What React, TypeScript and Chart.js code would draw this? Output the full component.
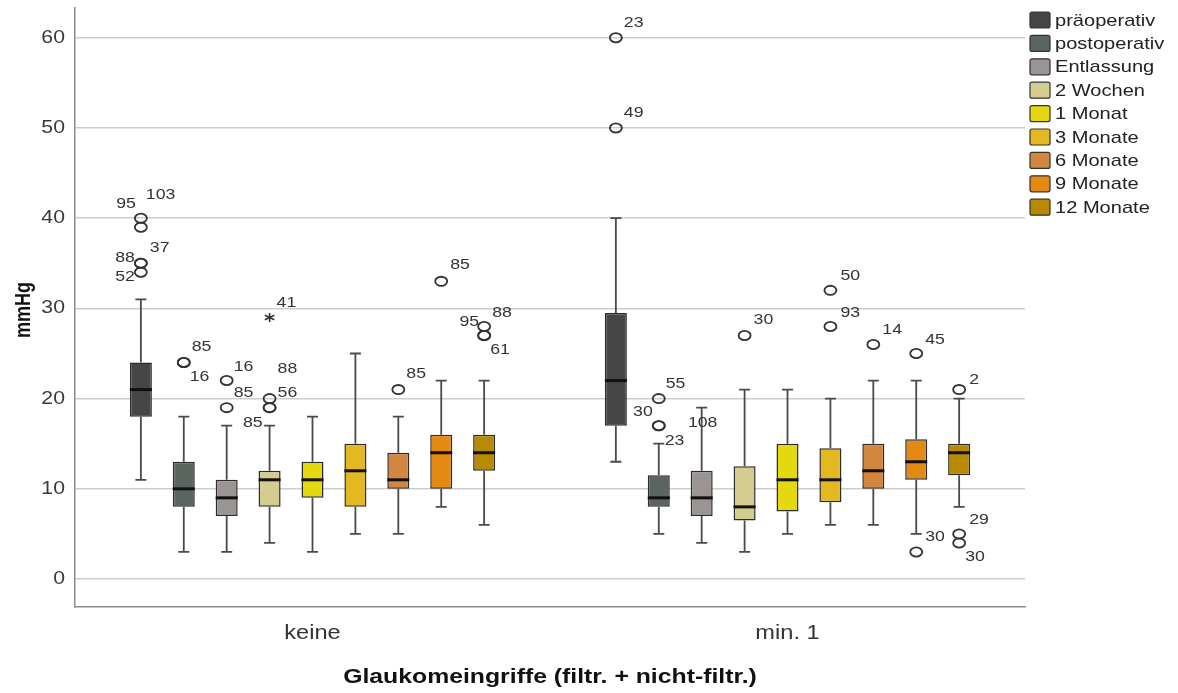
import React, { useEffect, useRef } from "react";
import { Chart, registerables } from "chart.js";

Chart.register(...registerables);

// Groups on the x axis
const groups = ["keine", "min. 1"];

// Measurement times (one box per time point in each group)
const seriesNames = [
  "präoperativ",
  "postoperativ",
  "Entlassung",
  "2 Wochen",
  "1 Monat",
  "3 Monate",
  "6 Monate",
  "9 Monate",
  "12 Monate",
];
const seriesColors = [
  "#464646",
  "#5a6560",
  "#9a9592",
  "#d4cd8f",
  "#e4d90f",
  "#e3b820",
  "#d3863f",
  "#e48912",
  "#b78a02",
];

// Box-plot summaries, per series: [keine, min. 1]
const whiskerLow = [[11, 13], [3, 5], [3, 4], [4, 3], [3, 5], [5, 6], [5, 6], [8, 5], [6, 8]];
const quartile1 = [[18, 17], [8, 8], [7, 7], [8, 6.5], [9, 7.5], [8, 8.5], [10, 10], [10, 11], [12, 11.5]];
const medians = [[21, 22], [10, 9], [9, 9], [11, 8], [11, 11], [12, 11], [11, 12], [14, 13], [14, 14]];
const quartile3 = [[24, 29.5], [13, 11.5], [11, 12], [12, 12.5], [13, 15], [15, 14.5], [14, 15], [16, 15.5], [16, 15]];
const whiskerHigh = [[31, 40], [18, 15], [17, 19], [17, 21], [18, 21], [25, 20], [18, 22], [22, 22], [22, 20]];

// Outliers: [series, group, value, case number, marker ("o" mild, "*" extreme, "" label only)]
const outliers: [number, number, number, string, string][] = [
  [0, 0, 40, "95", "o"],
  [0, 0, 39, "103", "o"],
  [0, 0, 35, "88", "o"],
  [0, 0, 35, "37", "o"],
  [0, 0, 34, "52", "o"],
  [1, 0, 24, "85", "o"],
  [1, 0, 24, "16", "o"],
  [2, 0, 22, "16", "o"],
  [2, 0, 19, "85", "o"],
  [3, 0, 29, "41", "*"],
  [3, 0, 20, "88", "o"],
  [3, 0, 19, "56", "o"],
  [3, 0, 19, "85", "o"],
  [6, 0, 21, "85", "o"],
  [7, 0, 33, "85", "o"],
  [8, 0, 28, "88", "o"],
  [8, 0, 27, "95", "o"],
  [8, 0, 27, "61", "o"],
  [0, 1, 60, "23", "o"],
  [0, 1, 50, "49", "o"],
  [1, 1, 20, "55", "o"],
  [1, 1, 17, "30", "o"],
  [1, 1, 17, "23", "o"],
  [2, 1, 19, "108", ""],
  [3, 1, 27, "30", "o"],
  [5, 1, 32, "50", "o"],
  [5, 1, 28, "93", "o"],
  [6, 1, 26, "14", "o"],
  [7, 1, 25, "45", "o"],
  [7, 1, 3, "30", "o"],
  [8, 1, 21, "2", "o"],
  [8, 1, 5, "29", "o"],
  [8, 1, 4, "30", "o"],
];

// Where each case number sits next to its marker: [dx, dy, text alignment]
const outlierLabelOffsets: [number, number, CanvasTextAlign][] = [
  [-5, -14, "right"],
  [5, -32, "left"],
  [-6, -5, "right"],
  [9, -15, "left"],
  [-6, 5, "right"],
  [8, -16, "left"],
  [6, 14, "left"],
  [7, -14, "left"],
  [7, -15, "left"],
  [7, -15, "left"],
  [8, -30, "left"],
  [8, -15, "left"],
  [-7, 15, "right"],
  [8, -16, "left"],
  [9, -16, "left"],
  [8, -14, "left"],
  [-5, -14, "right"],
  [6, 14, "left"],
  [8, -15, "left"],
  [8, -15, "left"],
  [7, -15, "left"],
  [-6, -14, "right"],
  [6, 15, "left"],
  [1, 15, "center"],
  [9, -16, "left"],
  [10, -15, "left"],
  [10, -14, "left"],
  [9, -15, "left"],
  [9, -14, "left"],
  [9, -15, "left"],
  [10, -10, "left"],
  [10, -14, "left"],
  [6, 14, "left"],
];

const yTickValues = [0, 10, 20, 30, 40, 50, 60];
const yTitle = "mmHg";
const xTitle = "Glaukomeingriffe (filtr. + nicht-filtr.)";

const FONT = "'Liberation Sans', Arial, sans-serif";
const STRETCH = 1.18;

function drawText(
  ctx: CanvasRenderingContext2D,
  text: string,
  x: number,
  y: number,
  font: string,
  color: string,
  align: CanvasTextAlign,
  rotate = 0
) {
  ctx.save();
  ctx.translate(x, y);
  if (rotate) {
    ctx.rotate(rotate);
    ctx.scale(1, STRETCH);
  } else {
    ctx.scale(STRETCH, 1);
  }
  ctx.font = font;
  ctx.fillStyle = color;
  ctx.textAlign = align;
  ctx.textBaseline = "middle";
  ctx.fillText(text, 0, 0);
  ctx.restore();
}

const boxPlotPlugin = {
  id: "boxPlotParts",
  afterDatasetsDraw(chart: any) {
    const ctx: CanvasRenderingContext2D = chart.ctx;
    const y = chart.scales.y;
    ctx.save();
    chart.data.datasets.forEach((_ds: any, s: number) => {
      const meta = chart.getDatasetMeta(s);
      meta.data.forEach((el: any, g: number) => {
        const { x, width } = el.getProps(["x", "width"], true);
        const yLo = y.getPixelForValue(whiskerLow[s][g]);
        const yQ1 = y.getPixelForValue(quartile1[s][g]);
        const yQ3 = y.getPixelForValue(quartile3[s][g]);
        const yHi = y.getPixelForValue(whiskerHigh[s][g]);
        const yMed = y.getPixelForValue(medians[s][g]);
        const cap = 5.5;

        // whiskers and caps
        ctx.strokeStyle = "#4a4a4a";
        ctx.lineWidth = 1.8;
        ctx.beginPath();
        ctx.moveTo(x, yQ3);
        ctx.lineTo(x, yHi);
        ctx.moveTo(x - cap, yHi);
        ctx.lineTo(x + cap, yHi);
        ctx.moveTo(x, yQ1);
        ctx.lineTo(x, yLo);
        ctx.moveTo(x - cap, yLo);
        ctx.lineTo(x + cap, yLo);
        ctx.stroke();

        // median
        ctx.strokeStyle = "#111";
        ctx.lineWidth = 3;
        ctx.beginPath();
        ctx.moveTo(x - width / 2, yMed);
        ctx.lineTo(x + width / 2, yMed);
        ctx.stroke();
      });
    });

    // outliers and their case numbers
    outliers.forEach(([s, g, v, id, marker], i) => {
      const el = chart.getDatasetMeta(s).data[g];
      const { x } = el.getProps(["x"], true);
      const py = y.getPixelForValue(v);
      ctx.strokeStyle = "#333";
      ctx.lineWidth = 1.8;
      if (marker === "o") {
        ctx.beginPath();
        ctx.ellipse(x, py, 6, 4.6, 0, 0, Math.PI * 2);
        ctx.stroke();
      } else if (marker === "*") {
        ctx.lineWidth = 1.6;
        ctx.beginPath();
        for (let k = 0; k < 3; k++) {
          const a = Math.PI / 2 + (k * Math.PI) / 3;
          ctx.moveTo(x - Math.cos(a) * 5.5, py - Math.sin(a) * 4.5);
          ctx.lineTo(x + Math.cos(a) * 5.5, py + Math.sin(a) * 4.5);
        }
        ctx.stroke();
      }
      const [dx, dy, align] = outlierLabelOffsets[i];
      drawText(ctx, id, x + dx, py + dy, `15px ${FONT}`, "#333", align);
    });
    ctx.restore();
  },
  afterDraw(chart: any) {
    const ctx: CanvasRenderingContext2D = chart.ctx;
    const { x: xs, y: ys } = chart.scales;
    const area = chart.chartArea;

    // y tick labels
    ys.ticks.forEach((t: any) => {
      drawText(ctx, String(t.value), area.left - 10, ys.getPixelForValue(t.value), `18px ${FONT}`, "#3a3a3a", "right");
    });
    // group labels
    groups.forEach((label, i) => {
      drawText(ctx, label, xs.getPixelForValue(i), area.bottom + 26, `20px ${FONT}`, "#333", "center");
    });
    // axis titles
    drawText(ctx, xTitle, (area.left + area.right) / 2, 677, `bold 21px ${FONT}`, "#111", "center");
    drawText(ctx, yTitle, 24, 310, `bold 18px ${FONT}`, "#111", "center", -Math.PI / 2);

    // legend
    const lx = area.right + 5;
    chart.data.datasets.forEach((ds: any, i: number) => {
      const cy = 20 + i * 23.4;
      ctx.save();
      ctx.fillStyle = ds.backgroundColor;
      ctx.strokeStyle = "#333";
      ctx.lineWidth = 1.2;
      ctx.beginPath();
      ctx.roundRect(lx, cy - 8, 20, 16, 2);
      ctx.fill();
      ctx.stroke();
      ctx.restore();
      drawText(ctx, ds.label, lx + 25, cy + 1, `17px ${FONT}`, "#222", "left");
    });
  },
};

export default function App() {
  const canvasRef = useRef<HTMLCanvasElement | null>(null);

  useEffect(() => {
    if (!canvasRef.current) return;
    const chart = new Chart(canvasRef.current, {
      type: "bar",
      data: {
        labels: groups,
        datasets: seriesNames.map((name, s) => ({
          label: name,
          data: groups.map((_, g) => [quartile1[s][g], quartile3[s][g]]),
          backgroundColor: seriesColors[s],
          borderColor: "#2b2b2b",
          borderWidth: 1.5,
          borderSkipped: false,
          categoryPercentage: 0.813,
          barPercentage: 0.513,
        })),
      } as any,
      options: {
        animation: false,
        responsive: false,
        devicePixelRatio: 1,
        events: [],
        layout: { padding: { left: 0, top: 8, right: 153, bottom: 0 } },
        plugins: {
          legend: { display: false },
          tooltip: { enabled: false },
        },
        scales: {
          x: {
            type: "category",
            grid: { display: false, drawTicks: false },
            border: { display: true, color: "#8c8c8c", width: 1.5 },
            ticks: { display: false },
            afterFit: (s: any) => {
              s.height = 86;
            },
          },
          y: {
            type: "linear",
            min: -3.1,
            max: 63.3,
            afterBuildTicks: (s: any) => {
              s.ticks = yTickValues.map((v) => ({ value: v }));
            },
            grid: { color: "#cdcdcd", lineWidth: 1.5, drawTicks: false },
            border: { display: true, color: "#8c8c8c", width: 1.5 },
            ticks: { display: false },
            afterFit: (s: any) => {
              s.width = 75;
            },
          },
        },
      } as any,
      plugins: [boxPlotPlugin],
    });
    return () => chart.destroy();
  }, []);

  return (
    <div style={{ position: "absolute", left: 0, top: 0, width: 1178, height: 693, background: "#fff" }}>
      <canvas ref={canvasRef} width={1178} height={693} style={{ display: "block" }} />
    </div>
  );
}
